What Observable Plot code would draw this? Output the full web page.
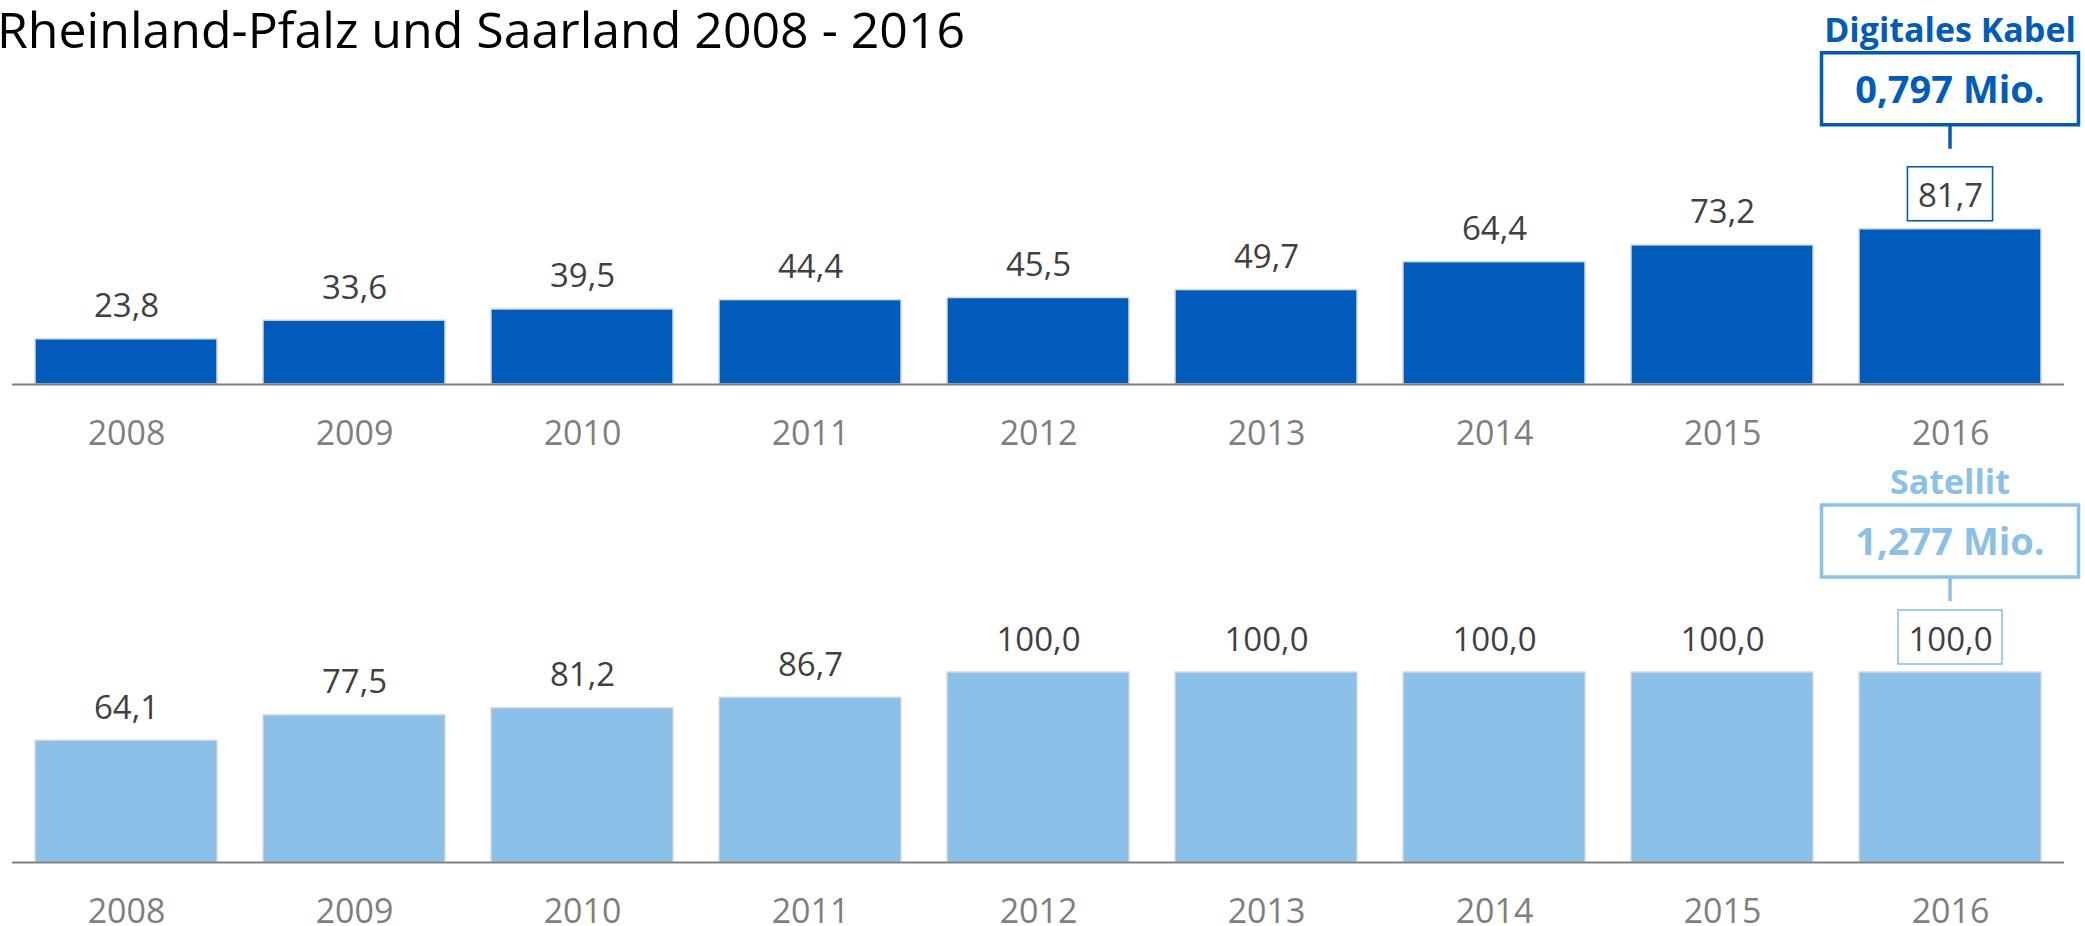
<!DOCTYPE html>
<html><head><meta charset="utf-8">
<script src="https://cdn.jsdelivr.net/npm/d3@7"></script>
<script src="https://cdn.jsdelivr.net/npm/@observablehq/plot@0.6"></script>
<style>
html,body{margin:0;padding:0;background:#fff;}
#wrap{position:relative;width:2085px;height:926px;overflow:hidden;background:#fff;}
#title{position:absolute;left:-3px;top:4px;font-family:"Open Sans";font-size:50px;line-height:50px;color:#000;white-space:nowrap;z-index:2;}
.panel{position:absolute;left:0;}
</style></head><body>
<div id="wrap">
<div id="title">Rheinland-Pfalz und Saarland 2008 - 2016</div>
<div id="p1" class="panel" style="top:0px"></div>
<div id="p2" class="panel" style="top:478px"></div>
</div>
<script>
const years = ["2008","2009","2010","2011","2012","2013","2014","2015","2016"];
const kabelValues = [23.8, 33.6, 39.5, 44.4, 45.5, 49.7, 64.4, 73.2, 81.7];
const satellitValues = [64.1, 77.5, 81.2, 86.7, 100.0, 100.0, 100.0, 100.0, 100.0];
const seriesNames = ["Digitales Kabel", "Satellit"];
const seriesTotals = ["0,797 Mio.", "1,277 Mio."];
const seriesColors = ["#005BBB", "#8BC0E9"];

const fmt = v => v.toFixed(1).replace(".", ",");
const ctx = document.createElement("canvas").getContext("2d");
function measure(t, font) { ctx.font = font; return ctx.measureText(t).width; }

function makePanel(el, values, name, total, color, gap, heightPx, marginBottom) {
  const data = years.map((year, i) => ({year, value: values[i]}));
  const chart = Plot.plot({
    width: 2085, height: heightPx,
    marginLeft: 12, marginRight: 21, marginTop: 194, marginBottom: marginBottom,
    style: {fontFamily: "Open Sans", background: "transparent", overflow: "visible"},
    x: {domain: years, paddingInner: 0.2, paddingOuter: 0.1, label: null},
    y: {domain: [0, 100], axis: null},
    marks: [
      Plot.barY(data, {x: "year", y: "value", fill: color, stroke: "#d9d9d9", strokeWidth: 1.5}),
      Plot.ruleY([0], {stroke: "#808080", strokeWidth: 2}),
      Plot.text(data, {x: "year", y: "value", text: d => fmt(d.value), lineAnchor: "bottom", dy: -22,
        fontSize: 33, fill: "#404040", fontFamily: "Open Sans"}),
      Plot.axisX({tickSize: 0, tickPadding: 36, fontSize: 34, fill: "#7f7f7f", fontFamily: "Open Sans", label: null})
    ]
  });
  el.appendChild(chart);

  const xs = chart.scale("x"), ys = chart.scale("y");
  const last = data[data.length - 1];
  const cx = xs.apply(last.year) + xs.bandwidth / 2;
  const by = ys.apply(last.value);
  const label = fmt(last.value);
  const tw = measure(label, "33px 'Open Sans'");
  const g = d3.select(chart).append("g");
  const sbTop = by - 62, sbBottom = by - 8;
  g.append("rect").attr("x", cx - tw / 2 - 10).attr("y", sbTop)
    .attr("width", tw + 20).attr("height", sbBottom - sbTop)
    .attr("fill", "none").attr("stroke", color).attr("stroke-width", 1.6);
  const bigBottom = sbTop - gap - 24, bigTop = bigBottom - 72, bigW = 257;
  g.append("line").attr("x1", cx).attr("x2", cx).attr("y1", bigBottom).attr("y2", bigBottom + 24)
    .attr("stroke", color).attr("stroke-width", 3.5);
  g.append("rect").attr("x", cx - bigW / 2).attr("y", bigTop).attr("width", bigW).attr("height", bigBottom - bigTop)
    .attr("fill", "white").attr("stroke", color).attr("stroke-width", 3.5);
  g.append("text").attr("x", cx).attr("y", bigBottom - 22).attr("text-anchor", "middle")
    .attr("font-family", "Open Sans").attr("font-weight", "bold").attr("font-size", 38)
    .attr("fill", color).text(total);
  g.append("text").attr("x", cx).attr("y", bigTop - 11).attr("text-anchor", "middle")
    .attr("font-family", "Open Sans").attr("font-weight", "bold").attr("font-size", 34)
    .attr("fill", color).text(name);
}

makePanel(document.getElementById("p1"), kabelValues, seriesNames[0], seriesTotals[0], seriesColors[0], 18, 478, 94);
makePanel(document.getElementById("p2"), satellitValues, seriesNames[1], seriesTotals[1], seriesColors[1], 9, 448, 64);
</script>
</body></html>
